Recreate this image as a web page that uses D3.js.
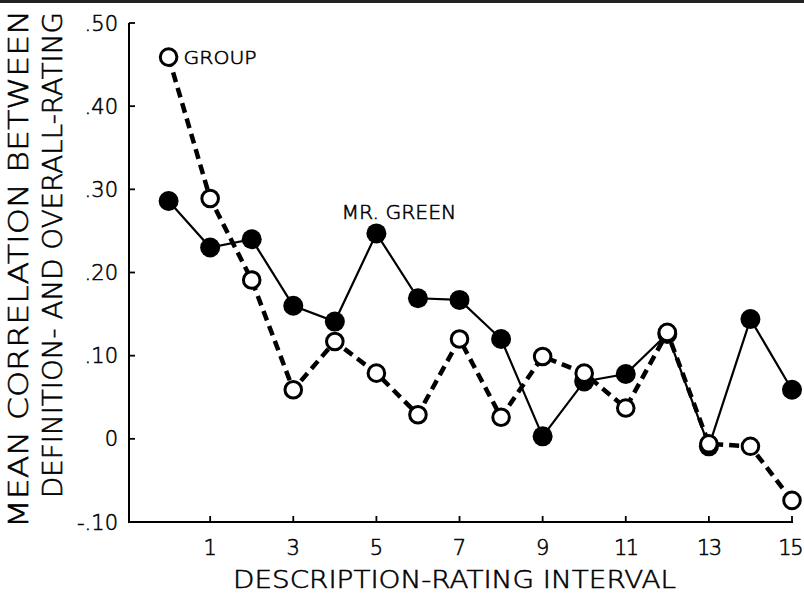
<!doctype html>
<html>
<head>
<meta charset="utf-8">
<style>
  body { margin: 0; background: #fff; }
  svg { display: block; font-family: "DejaVu Sans", "Liberation Sans", sans-serif; font-weight: 200; }
  svg text { fill: #000; stroke: #000; stroke-width: 0.55px; }
</style>
</head>
<body>
<svg id="chart" width="804" height="595"></svg>
<script src="https://d3js.org/d3.v7.min.js"></script>
<script>
// description-rating interval 0..15
const intervals = d3.range(0, 16);
// Mr. Green (filled circles, solid line)
const greenVals = [0.286, 0.230, 0.240, 0.160, 0.141, 0.247, 0.169, 0.167, 0.120, 0.003, 0.069, 0.078, 0.126, -0.009, 0.144, 0.059];
// Group (open circles, dashed line)
const groupVals = [0.459, 0.289, 0.191, 0.059, 0.117, 0.079, 0.029, 0.120, 0.026, 0.099, 0.079, 0.037, 0.128, -0.006, -0.009, -0.074];
const yTicks = [0.5, 0.4, 0.3, 0.2, 0.1, 0, -0.1];
const yTickLabels = [".50", ".40", ".30", ".20", ".10", "0", "-.10"];
const xTicks = [1, 3, 5, 7, 9, 11, 13, 15];

const W = 804;
const svg = d3.select("#chart");
const x = d3.scaleLinear().domain([0, 15]).range([168.6, 792]);
const y = d3.scaleLinear().domain([-0.1, 0.5]).range([522, 23]);
const axisX0 = 129;

// top border of the scanned figure
svg.append("line").attr("x1", 0).attr("x2", W).attr("y1", 1.5).attr("y2", 1.5)
  .attr("stroke", "#222").attr("stroke-width", 3);

// axes
svg.append("line").attr("x1", axisX0).attr("x2", axisX0).attr("y1", y(0.5)).attr("y2", y(-0.1))
  .attr("stroke", "#000").attr("stroke-width", 2);
svg.append("line").attr("x1", axisX0 - 1).attr("x2", x(15) + 1).attr("y1", y(-0.1)).attr("y2", y(-0.1))
  .attr("stroke", "#000").attr("stroke-width", 2);

svg.append("g").selectAll("line").data(yTicks.slice(0, -1)).enter().append("line")
  .attr("x1", axisX0).attr("x2", axisX0 + 6)
  .attr("y1", d => y(d)).attr("y2", d => y(d))
  .attr("stroke", "#000").attr("stroke-width", 1.8);

svg.append("g").selectAll("text").data(yTicks).enter().append("text")
  .attr("x", 118).attr("y", d => y(d) + 7.5)
  .attr("text-anchor", "end").attr("font-size", 21)
  .text((d, i) => yTickLabels[i]);

svg.append("g").selectAll("line").data(xTicks).enter().append("line")
  .attr("x1", d => x(d)).attr("x2", d => x(d))
  .attr("y1", y(-0.1)).attr("y2", y(-0.1) - 6)
  .attr("stroke", "#000").attr("stroke-width", 1.8);

svg.append("g").selectAll("text").data(xTicks).enter().append("text")
  .attr("x", d => x(d)).attr("y", 555)
  .attr("text-anchor", "middle").attr("font-size", 21)
  .attr("letter-spacing", d => d >= 10 ? -1.5 : 0)
  .text(d => d)
  .each(function (d) {
    // keep the last label inside the frame
    const w = this.getComputedTextLength();
    if (x(d) + w / 2 > W - 2) d3.select(this).attr("text-anchor", "end").attr("x", W - 2);
  });

// axis titles
svg.append("text")
  .attr("x", 454.5).attr("y", 588)
  .attr("text-anchor", "middle").attr("font-size", 24)
  .attr("textLength", 443).attr("lengthAdjust", "spacingAndGlyphs")
  .text("DESCRIPTION-RATING INTERVAL");

svg.append("text")
  .attr("transform", "translate(28,269) rotate(-90)")
  .attr("text-anchor", "middle").attr("font-size", 27)
  .attr("textLength", 518).attr("lengthAdjust", "spacingAndGlyphs")
  .text("MEAN CORRELATION BETWEEN");

svg.append("text")
  .attr("transform", "translate(62,255) rotate(-90)")
  .attr("text-anchor", "middle").attr("font-size", 26)
  .attr("textLength", 486).attr("lengthAdjust", "spacingAndGlyphs")
  .text("DEFINITION- AND OVERALL-RATING");

// Mr. Green series
const green = intervals.map((d, i) => ({ k: d, v: greenVals[i] }));
const group = intervals.map((d, i) => ({ k: d, v: groupVals[i] }));
const line = d3.line().x(d => x(d.k)).y(d => y(d.v));

svg.append("path").datum(green).attr("d", line)
  .attr("fill", "none").attr("stroke", "#000").attr("stroke-width", 2.2);
svg.append("g").selectAll("circle").data(green).enter().append("circle")
  .attr("cx", d => x(d.k)).attr("cy", d => y(d.v)).attr("r", 10)
  .attr("fill", "#000");

// Group series
svg.append("path").datum(group).attr("d", line)
  .attr("fill", "none").attr("stroke", "#000").attr("stroke-width", 4.5)
  .attr("stroke-dasharray", "10,6");
svg.append("g").selectAll("circle").data(group).enter().append("circle")
  .attr("cx", d => x(d.k)).attr("cy", d => y(d.v)).attr("r", 8.3)
  .attr("fill", "#fff").attr("stroke", "#000").attr("stroke-width", 3);

// series labels
svg.append("text")
  .attr("x", x(0) + 15).attr("y", y(groupVals[0]) + 6.5)
  .attr("font-size", 18).attr("textLength", 73).attr("lengthAdjust", "spacingAndGlyphs")
  .text("GROUP");

svg.append("text")
  .attr("x", x(5) - 35).attr("y", y(greenVals[5]) - 14)
  .attr("font-size", 19).attr("textLength", 115).attr("lengthAdjust", "spacingAndGlyphs")
  .text("MR. GREEN");
</script>
</body>
</html>
